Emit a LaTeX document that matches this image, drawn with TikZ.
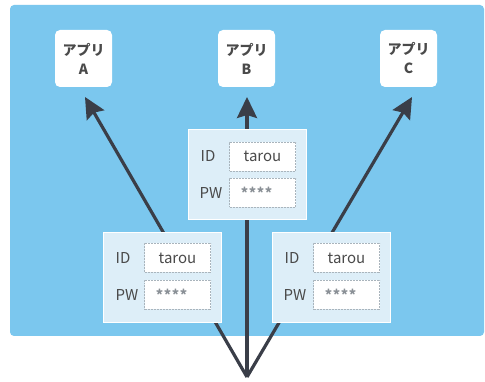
\documentclass[tikz,border=0pt]{standalone}
\usepackage{fontspec}
\setmainfont{Noto Sans CJK JP}
\usetikzlibrary{arrows.meta}
\definecolor{panelblue}{HTML}{7BC7EE}
\definecolor{cardblue}{HTML}{DDEEF8}
\definecolor{inkgray}{HTML}{4A4A4A}
\definecolor{maskgray}{HTML}{8A9096}
\definecolor{arrowgray}{HTML}{3A3E48}
\definecolor{fieldline}{HTML}{A9B4BC}
\tikzset{
  appbox/.style={fill=white, rounded corners=5pt, minimum width=57pt, minimum height=57pt,
    inner sep=0pt, align=center, text=inkgray, font=\fontsize{14}{19}\selectfont\bfseries},
  card/.style={fill=cardblue, draw=white, line width=0.6pt, minimum width=118pt, minimum height=90pt, inner sep=0pt},
  field/.style={fill=white, draw=fieldline, densely dotted, line width=0.5pt, minimum width=66pt,
    minimum height=29pt, inner sep=0pt, text=inkgray},
  flabel/.style={text=inkgray, font=\fontsize{15}{17}\selectfont, inner sep=0pt},
  ftext/.style={font=\fontsize{15}{17}\selectfont},
  pwtext/.style={font=\fontsize{14}{15}\selectfont\bfseries, text=maskgray},
  flow/.style={draw=arrowgray, line width=3.2pt, -{Stealth[length=21pt, width=20pt, inset=3pt]}},
}
\newcommand{\pwmask}{\hspace*{-12pt}\raisebox{-0.28em}{*\kern0.6pt*\kern0.6pt*\kern0.6pt*}}
\begin{document}
\begin{tikzpicture}[x=1pt, y=-1pt]
  \useasboundingbox (0,0) rectangle (485,382);
  \fill[white] (0,0) rectangle (485,382);
  % background panel
  \fill[panelblue, rounded corners=4pt] (10,5) rectangle (484,336);

  % applications
  \node[appbox] (appA) at (83.5,58.5) {アプリ\\A};
  \node[appbox] (appB) at (246.5,58.5) {アプリ\\B};
  \node[appbox] (appC) at (408.5,58.5) {アプリ\\C};

  % common origin and arrow tips
  \coordinate (src) at (247,377);
  \coordinate (tipA) at (85,97);
  \coordinate (tipB) at (247,97);
  \coordinate (tipC) at (412,97);
  \draw[flow] (src) -- (tipA);
  \draw[flow] (src) -- (tipB);
  \draw[flow] (src) -- (tipC);

  % credential cards
  \node[card] (cardB) at (247,174) {};
  \node[card] (cardA) at (162.5,277) {};
  \node[card] (cardC) at (331.5,277) {};

  % middle card
  \node[flabel] (idLB) at (208,156) {ID};
  \node[flabel] (pwLB) at (211,193) {PW};
  \node[field, ftext] (idB) at (262.5,156.5) {tarou};
  \node[field, pwtext] (pwB) at (262.5,192.5) {\pwmask};

  % left card
  \node[flabel] (idLA) at (123,258) {ID};
  \node[flabel] (pwLA) at (127,295) {PW};
  \node[field, ftext] (idA) at (177.5,258) {tarou};
  \node[field, pwtext] (pwA) at (177.5,295) {\pwmask};

  % right card
  \node[flabel] (idLC) at (292,258) {ID};
  \node[flabel] (pwLC) at (295,295) {PW};
  \node[field, ftext] (idC) at (346.5,258) {tarou};
  \node[field, pwtext] (pwC) at (346.5,295) {\pwmask};
\end{tikzpicture}
\end{document}
